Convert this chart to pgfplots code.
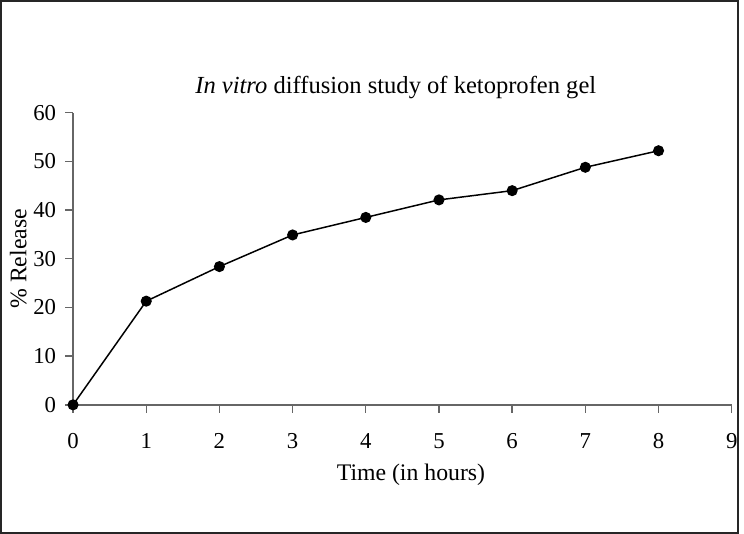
\documentclass[border=0pt]{standalone}
\usepackage{pgfplots}
\pgfplotsset{compat=1.18}
\usepackage{fontspec}
\setmainfont{Liberation Serif}
\begin{document}
\begin{tikzpicture}
\begin{axis}[
  scale only axis,
  width=331.5bp, height=147bp,
  xmin=0, xmax=9, ymin=0, ymax=60,
  xtick={0,1,...,9}, ytick={0,10,...,60},
  axis lines*=left,
  axis line style={draw=black!60, line width=0.8bp},
  tick style={draw=black!60, line width=0.7bp},
  tick align=outside,
  major tick length=4bp,
  /pgf/number format/assume math mode=true,
  ticklabel style={font=\fontsize{11.5}{13}\selectfont},
  x tick label style={yshift=-7bp},
  y tick label style={xshift=-1bp},
  xlabel={Time (in hours)},
  ylabel={\% Release},
  label style={font=\fontsize{12}{14}\selectfont},
  xlabel style={at={(rel axis cs:0.513,-0.238)}, anchor=center},
  ylabel style={at={(rel axis cs:-0.083,0.5)}, anchor=center},
  every axis title shift=0pt,
  title={\textit{In vitro} diffusion study of ketoprofen gel},
  title style={font=\fontsize{12.4}{14}\selectfont, at={(rel axis cs:0.49,1.088)}, anchor=center},
  clip=false,
]
\addplot[black, line width=0.75bp, mark=*, mark size=2.4bp]
  coordinates {(0,0) (1,21.3) (2,28.4) (3,34.9) (4,38.5) (5,42.1) (6,44.0) (7,48.8) (8,52.2)};
\draw[black!85, line width=1bp] (rel axis cs:-0.1094,-0.4371) rectangle (rel axis cs:1.0098,1.3827);
\end{axis}
\end{tikzpicture}
\end{document}
